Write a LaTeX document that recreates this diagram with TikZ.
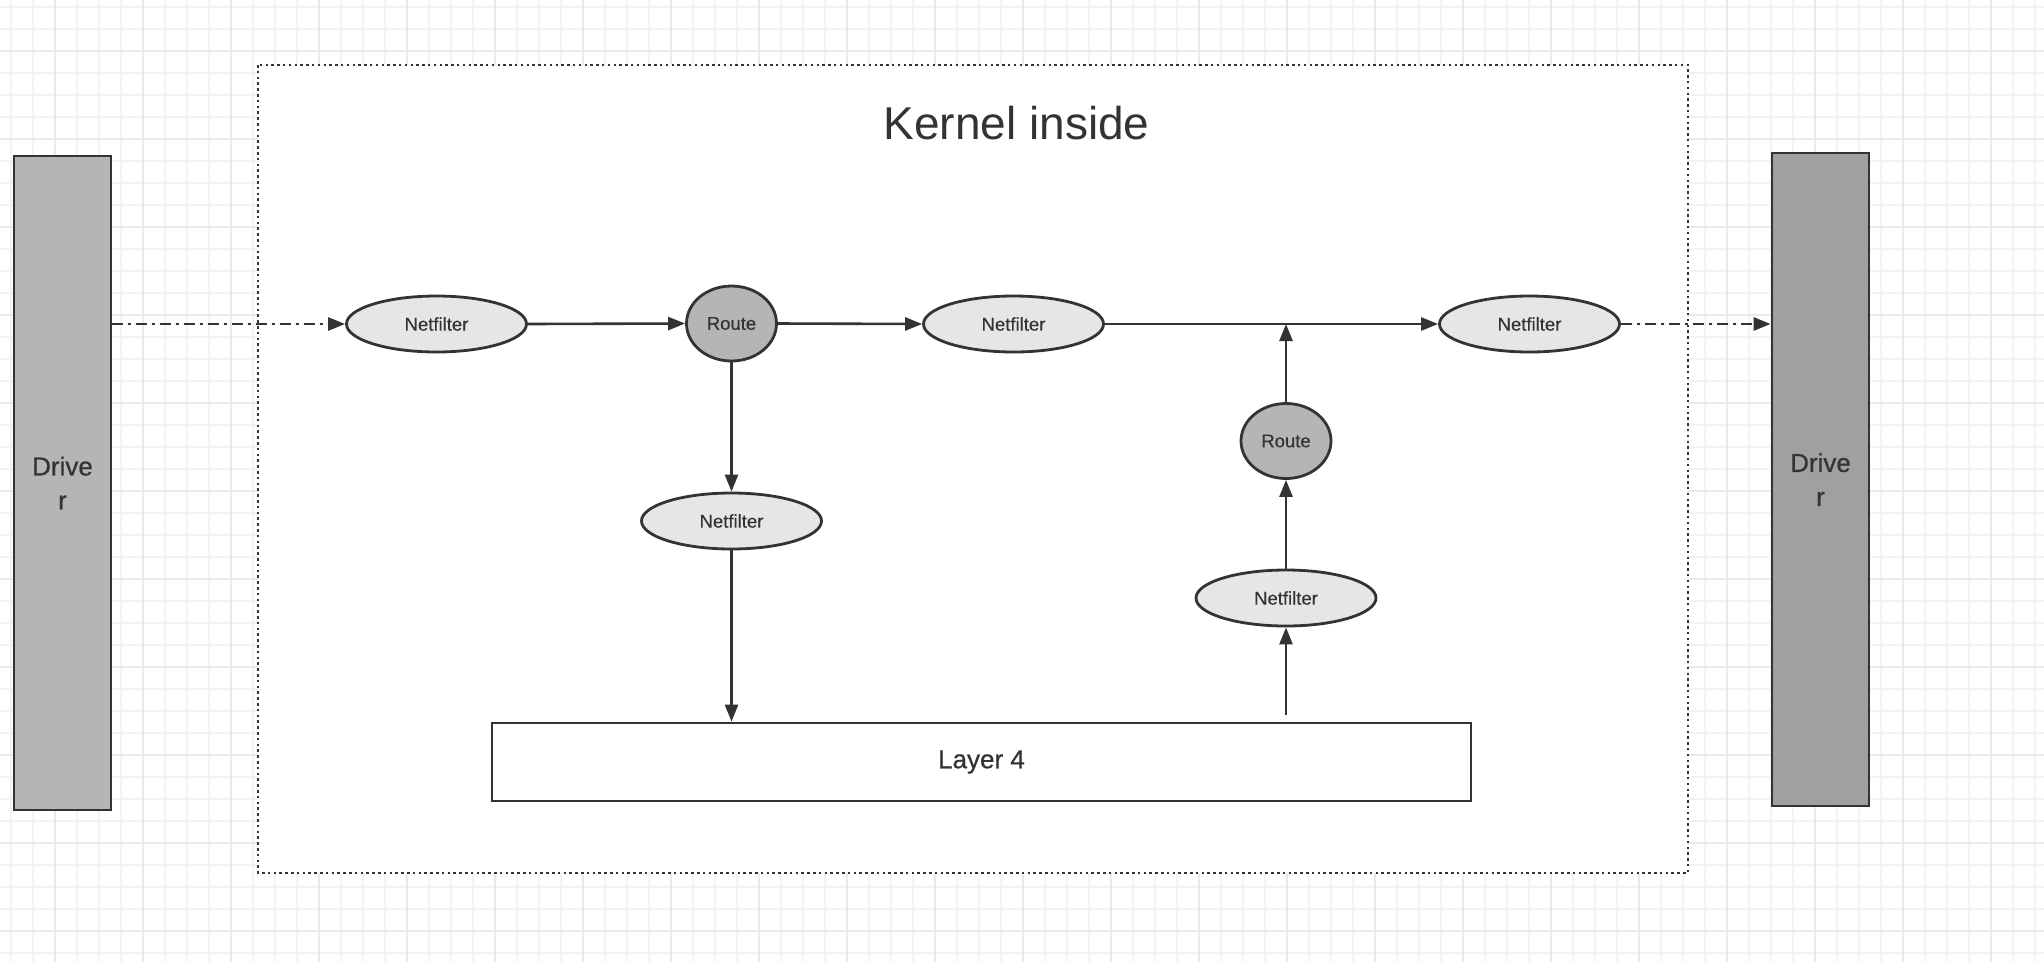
\documentclass[tikz,border=0pt]{standalone}
\usepackage{fontspec}
\setmainfont{Liberation Sans}
\newfontfamily\medfont[FakeBold=0.6]{Liberation Sans}
\newfontfamily\lightmedfont[FakeBold=0.25]{Liberation Sans}
\usetikzlibrary{shapes.geometric,arrows.meta}
\definecolor{ink}{HTML}{333333}
\definecolor{gridminor}{HTML}{F3F3F3}
\definecolor{gridmajor}{HTML}{EAEAEA}
\definecolor{nffill}{HTML}{E6E6E6}
\definecolor{rtfill}{HTML}{B5B5B5}
\definecolor{drvlfill}{HTML}{B5B5B5}
\definecolor{drvrfill}{HTML}{A0A0A0}
\tikzset{
  minorline/.style={draw=gridminor, line width=1.5pt},
  majorline/.style={draw=gridmajor, line width=2pt},
  nfnode/.style={ellipse, draw=ink, line width=2.8pt, fill=nffill, inner sep=0pt,
     minimum width=180pt, minimum height=56pt, text=ink,
     font=\lightmedfont\fontsize{18.5}{22}\selectfont},
  rtnode/.style={ellipse, draw=ink, line width=2.8pt, fill=rtfill, inner sep=0pt,
     minimum width=90pt, minimum height=75pt, text=ink,
     font=\lightmedfont\fontsize{18.5}{22}\selectfont},
  drvnode/.style={rectangle, draw=ink, line width=2.8pt, inner sep=0pt,
     minimum width=97pt, text=ink, align=center,
     font=\medfont\fontsize{26}{34}\selectfont},
  layernode/.style={rectangle, draw=ink, line width=2.8pt, fill=white, inner sep=0pt,
     minimum width=979pt, minimum height=78pt, text=ink,
     font=\medfont\fontsize{26}{30}\selectfont},
  conn/.style={draw=ink, line width=2.6pt, -{Triangle[length=17pt,width=13pt]}},
  dashconn/.style={conn, dash pattern=on 11pt off 5pt on 3pt off 5pt},
  kernelbox/.style={draw=ink, line width=2.6pt, fill=white, dash pattern=on 2.5pt off 3.3pt},
}
\begin{document}
\begin{tikzpicture}[x=1pt,y=-1pt]
\useasboundingbox (0,0) rectangle (2044,962);
\fill[white] (0,0) rectangle (2044,962);
% background grid
\foreach \k in {0,...,92} { \draw[minorline] ({11+22*\k},0) -- ({11+22*\k},962); }
\foreach \k in {0,...,43} { \draw[minorline] (0,{7+22*\k}) -- (2044,{7+22*\k}); }
\foreach \k in {0,...,23} { \draw[majorline] ({55+88*\k},0) -- ({55+88*\k},962); }
\foreach \k in {0,...,10} { \draw[majorline] (0,{51+88*\k}) -- (2044,{51+88*\k}); }
% kernel box
\draw[kernelbox] (258,65) rectangle (1688,873);
\node[text=ink, font=\fontsize{46}{50}\selectfont, anchor=base] (title) at (1016.5,139) {Kernel inside};
% drivers
\node[drvnode, fill=drvlfill, minimum height=654pt] (drvL) at (62.5,483) {Drive\\r};
\node[drvnode, fill=drvrfill, minimum height=653pt] (drvR) at (1820.5,479.5) {Drive\\r};
% nodes
\node[nfnode] (nf1) at (436.5,324) {Netfilter};
\node[rtnode] (rt1) at (731.5,323.5) {Route};
\node[nfnode] (nf2) at (1013.5,324) {Netfilter};
\node[nfnode] (nf3) at (1529.5,324) {Netfilter};
\node[nfnode] (nfd) at (731.5,521) {Netfilter};
\node[rtnode] (rt2) at (1286,441) {Route};
\node[nfnode] (nfu) at (1286,598) {Netfilter};
\node[layernode] (l4) at (981.5,762) {Layer 4};
\coordinate (join) at (1286,324);
\coordinate (l4up) at (1286,715);
% connectors
\draw[dashconn] (nf1.west -| drvL.east) -- (nf1.west);
\draw[conn] (nf1.east) -- (rt1.west);
\draw[conn] (rt1.east) -- (nf2.west);
\draw[conn] (nf2.east) -- (nf3.west);
\draw[dashconn] (nf3.east) -- (nf3.east -| drvR.west);
\draw[conn] (rt1.south) -- (nfd.north);
\draw[conn] (nfd.south) -- (nfd.south |- l4.north);
\draw[conn] (l4up) -- (nfu.south);
\draw[conn] (nfu.north) -- (rt2.south);
\draw[conn] (rt2.north) -- (join);
\end{tikzpicture}
\end{document}
